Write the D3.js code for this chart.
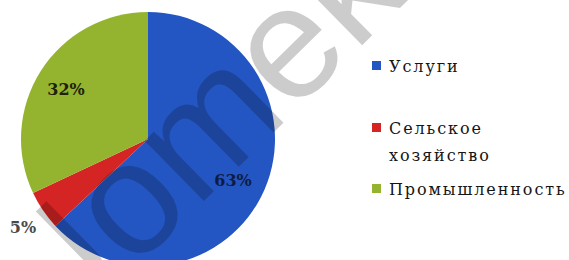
<!DOCTYPE html>
<html>
<head>
<meta charset="utf-8">
<script src="https://cdn.jsdelivr.net/npm/d3@7"></script>
<style>
body { margin: 0; background: #fff; }
svg { display: block; }
.serif { font-family: 'DejaVu Serif', 'Liberation Serif', serif; }
</style>
</head>
<body>
<div id="canvas"></div>
<script>
var categories = ['Услуги', 'Сельское хозяйство', 'Промышленность'];
var legendLines = [['Услуги'], ['Сельское', 'хозяйство'], ['Промышленность']];
var values = [63, 5, 32];
var colors = ['#2356c2', '#d42424', '#94b430'];

var W = 569, H = 260;
var cx = 148, cy = 139, r = 127;

var svg = d3.select('#canvas').append('svg')
    .attr('width', W).attr('height', H);

var pie = d3.pie().sort(null).value(function(d){ return d; });
var arc = d3.arc().innerRadius(0).outerRadius(r);
var arcs = pie(values);

var g = svg.append('g').attr('transform', 'translate(' + cx + ',' + cy + ')');

g.selectAll('path')
    .data(arcs)
    .enter()
    .append('path')
    .attr('d', arc)
    .attr('fill', function(d, i){ return colors[i]; });

// percent labels
var labelPos = [[85, 47], [-125, 94], [-82, -44]];
var labelColor = ['#0e1c44', '#4a4a4a', '#1e2208'];
g.selectAll('text.pct')
    .data(arcs)
    .enter()
    .append('text')
    .attr('class', 'pct serif')
    .attr('x', function(d, i){ return labelPos[i][0]; })
    .attr('y', function(d, i){ return labelPos[i][1]; })
    .attr('text-anchor', 'middle')
    .style('font-weight', 'bold')
    .style('font-size', '16px')
    .attr('fill', function(d, i){ return labelColor[i]; })
    .text(function(d, i){ return values[i] + '%'; });

// legend
var legendY = [72, 134, 195];
var leg = svg.append('g');
categories.forEach(function(c, i){
    leg.append('rect')
        .attr('x', 372).attr('y', legendY[i] - 11)
        .attr('width', 9).attr('height', 9)
        .attr('fill', colors[i]);
    var t = leg.append('text')
        .attr('class', 'serif')
        .attr('x', 389).attr('y', legendY[i])
        .style('font-size', '16px')
        .style('letter-spacing', '1.9px')
        .attr('fill', '#151515');
    legendLines[i].forEach(function(line, j){
        t.append('tspan').attr('x', 389).attr('dy', j ? 27 : 0).text(line);
    });
});

// watermark
svg.append('text')
    .attr('transform', 'translate(50,352) rotate(-44.5)')
    .style('font-family', '"Liberation Sans", Arial, sans-serif')
    .style('font-size', '160px')
    .attr('fill', '#000')
    .attr('fill-opacity', 0.2)
    .text('Uomek');
</script>
</body>
</html>
